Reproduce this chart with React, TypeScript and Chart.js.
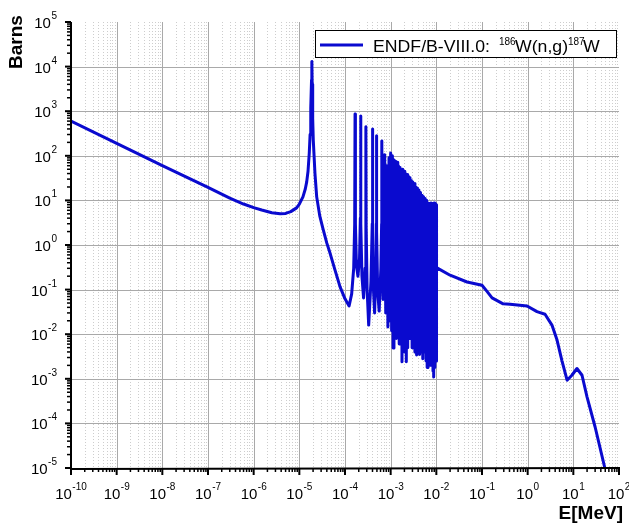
import React, { useEffect, useRef } from 'react';
import { Chart, registerables } from 'chart.js';

Chart.register(...registerables);

// ---------- data ----------
// thermal / 1/v region and the first big resonance
const thermalE = [1e-10, 1e-9, 1e-8, 1e-7, 3e-7, 6e-7, 1e-6, 1.5e-6, 2.5e-6, 3.8e-6, 5e-6, 6.5e-6, 8.7e-6, 1.0e-5, 1.2e-5, 1.35e-5, 1.45e-5, 1.55e-5, 1.65e-5, 1.72e-5, 1.78e-5, 1.85e-5, 1.88e-5, 1.91e-5, 1.96e-5, 2.02e-5, 2.2e-5, 2.4e-5, 2.8e-5, 3.3e-5, 4.0e-5, 4.7e-5, 6.0e-5, 7.8e-5, 1.0e-4, 1.23e-4];
const thermalXS = [600, 190, 60, 19.5, 11.2, 8.3, 6.9, 6.1, 5.3, 5.0, 5.1, 5.6, 6.8, 8.3, 12, 18, 26, 45, 115, 300, 1200, 5000, 13000, 4000, 700, 225, 40, 12, 4.5, 2.3, 1.1, 0.66, 0.28, 0.115, 0.062, 0.043];

// resolved resonance region
const resE = [
  1.4e-4, 1.55e-4, 1.63e-4, 1.66e-4, 1.69e-4, 1.78e-4, 1.92e-4, 2.08e-4, 2.17e-4, 2.2e-4,
  2.23e-4, 2.35e-4, 2.55e-4, 2.75e-4, 2.85e-4, 2.88e-4, 2.91e-4, 3.05e-4, 3.3e-4, 3.7e-4,
  3.95e-4, 4.0e-4, 4.05e-4, 4.2e-4, 4.45e-4, 4.75e-4, 4.86e-4, 4.9e-4, 4.94e-4, 5.2e-4,
  5.6e-4, 6.1e-4, 6.34e-4, 6.4e-4, 6.46e-4, 6.8e-4,
  7.4e-4, 7.8e-4, 8.2e-4, 8.7e-4, 9.2e-4, 9.6e-4, 1.0e-3, 1.05e-3, 1.09e-3, 1.13e-3,
  1.18e-3, 1.23e-3, 1.28e-3, 1.33e-3, 1.38e-3, 1.43e-3, 1.48e-3, 1.54e-3, 1.6e-3, 1.66e-3,
  1.72e-3, 1.77e-3, 1.84e-3, 1.9e-3, 1.97e-3, 2.04e-3, 2.11e-3, 2.2e-3, 2.28e-3, 2.36e-3,
  2.45e-3, 2.55e-3, 2.65e-3, 2.75e-3, 2.85e-3, 2.95e-3, 3.05e-3, 3.15e-3, 3.27e-3, 3.4e-3,
  3.55e-3, 3.7e-3, 3.85e-3, 4.0e-3, 4.15e-3, 4.3e-3, 4.5e-3, 4.65e-3, 4.85e-3, 5.05e-3,
  5.25e-3, 5.45e-3, 5.7e-3, 5.95e-3, 6.15e-3, 6.3e-3, 6.55e-3, 6.8e-3, 7.05e-3, 7.35e-3,
  7.6e-3, 7.9e-3, 8.2e-3, 8.45e-3, 8.6e-3, 8.75e-3, 9.0e-3, 9.3e-3, 9.6e-3, 9.85e-3, 1.0e-2,
];
const resXS = [
  0.08, 0.3, 3, 870, 3, 0.35, 0.2, 0.5, 4, 780,
  3, 0.2, 0.065, 0.3, 4, 450, 2.5, 0.1, 0.016, 0.15,
  3, 400, 2, 0.1, 0.03, 0.3, 3, 280, 2, 0.09,
  0.033, 0.3, 3, 215, 2, 0.06,
  105, 0.03, 60, 0.0145, 90, 0.02, 115, 0.012, 100, 0.0049,
  80, 0.01, 75, 0.008, 72, 0.012, 60, 0.006, 55, 0.008,
  48, 0.0024, 50, 0.006, 45, 0.004, 40, 0.0024, 38, 0.005,
  35, 0.008, 32, 0.013, 28, 0.005, 26, 0.005, 24, 0.004,
  20, 0.0034, 19, 0.005, 17, 0.0035, 15, 0.004, 13, 0.0028,
  12, 0.004, 11, 0.0025, 10, 0.0018, 8.8, 0.003, 8.5, 0.002,
  8.8, 0.0025, 8.2, 0.0015, 8.6, 0.0011, 8.8, 0.0018, 8.5, 0.0025, 8,
];

// unresolved / fast region
const fastE = [1.02e-2, 2e-2, 4.7e-2, 0.1, 0.13, 0.166, 0.29, 0.41, 0.97, 1.6, 2.4, 3.4, 4.4, 5.6, 7.3, 9.3, 12, 15.5, 20, 30, 49, 60];
const fastXS = [0.31, 0.21, 0.148, 0.125, 0.09, 0.065, 0.048, 0.047, 0.043, 0.032, 0.028, 0.016, 0.0074, 0.0026, 9.3e-4, 1.2e-3, 1.7e-3, 1.2e-3, 3.9e-4, 8.3e-5, 1e-5, 4.5e-6];

// axis ticks (powers of ten)
const xTickExps = [-10, -9, -8, -7, -6, -5, -4, -3, -2, -1, 0, 1, 2];
const yTickExps = [-5, -4, -3, -2, -1, 0, 1, 2, 3, 4, 5];

const yTitle = 'Barns';
const xTitle = 'E[MeV]';
const legendParts = ['ENDF/B-VIII.0:', '186', 'W(n,g)', '187', 'W'];

// ---------- styling ----------
const W = 629;
const H = 524;
const FONT = '"Liberation Sans", Arial, Helvetica, sans-serif';
const LINE_COLOR = '#0a0acf';

function drawPow(ctx: CanvasRenderingContext2D, exp: number, x: number, base: number, expBase: number, align: 'center' | 'right') {
  const es = String(exp);
  ctx.font = `15px ${FONT}`;
  const w1 = ctx.measureText('10').width;
  ctx.font = `10px ${FONT}`;
  const w2 = ctx.measureText(es).width;
  const total = w1 + 0.5 + w2;
  const sx = align === 'center' ? x - total / 2 : x - total;
  ctx.textAlign = 'left';
  ctx.textBaseline = 'alphabetic';
  ctx.font = `15px ${FONT}`;
  ctx.fillText('10', sx, base);
  ctx.font = `10px ${FONT}`;
  ctx.fillText(es, sx + w1 + 0.5, expBase);
}

const originPlugin = {
  id: 'originLook',
  beforeDatasetsDraw(chart: any) {
    const { ctx, chartArea: a, scales } = chart;
    const x = scales.x;
    const y = scales.y;
    ctx.save();
    ctx.lineWidth = 1;
    // minor vertical dotted grid
    ctx.strokeStyle = '#cdcdcd';
    ctx.setLineDash([1, 2]);
    for (let i = 0; i < xTickExps.length - 1; i++) {
      for (let k = 2; k <= 9; k++) {
        const px = Math.round(x.getPixelForValue(k * Math.pow(10, xTickExps[i]))) + 0.5;
        ctx.beginPath();
        ctx.moveTo(px, a.top);
        ctx.lineTo(px, a.bottom);
        ctx.stroke();
      }
    }
    // major grid
    ctx.setLineDash([]);
    ctx.strokeStyle = '#a9a9a9';
    for (let i = 1; i < xTickExps.length - 1; i++) {
      const px = Math.round(x.getPixelForValue(Math.pow(10, xTickExps[i]))) + 0.5;
      ctx.beginPath();
      ctx.moveTo(px, a.top);
      ctx.lineTo(px, a.bottom);
      ctx.stroke();
    }
    for (let i = 1; i < yTickExps.length - 1; i++) {
      const py = Math.round(y.getPixelForValue(Math.pow(10, yTickExps[i]))) + 0.5;
      ctx.beginPath();
      ctx.moveTo(a.left, py);
      ctx.lineTo(a.right, py);
      ctx.stroke();
    }
    ctx.restore();
  },
  afterDatasetsDraw(chart: any) {
    const { ctx, chartArea: a, scales } = chart;
    const x = scales.x;
    const y = scales.y;
    ctx.save();
    ctx.strokeStyle = '#000';
    ctx.fillStyle = '#000';
    // axis lines
    ctx.lineWidth = 2;
    ctx.beginPath();
    ctx.moveTo(a.left, a.top);
    ctx.lineTo(a.left, a.bottom + 1);
    ctx.lineTo(a.right + 1, a.bottom);
    ctx.stroke();
    // x ticks
    for (let i = 0; i < xTickExps.length; i++) {
      const e = xTickExps[i];
      const px = x.getPixelForValue(Math.pow(10, e));
      ctx.lineWidth = 2;
      ctx.beginPath();
      ctx.moveTo(px, a.bottom);
      ctx.lineTo(px, a.bottom + 7);
      ctx.stroke();
      if (i < xTickExps.length - 1) {
        ctx.lineWidth = 1.5;
        for (let k = 2; k <= 9; k++) {
          const mx = x.getPixelForValue(k * Math.pow(10, e));
          ctx.beginPath();
          ctx.moveTo(mx, a.bottom);
          ctx.lineTo(mx, a.bottom + 4);
          ctx.stroke();
        }
      }
      drawPow(ctx, e, px, a.bottom + 31, a.bottom + 22, 'center');
    }
    // y ticks
    for (let i = 0; i < yTickExps.length; i++) {
      const e = yTickExps[i];
      const py = y.getPixelForValue(Math.pow(10, e));
      ctx.lineWidth = 2;
      ctx.beginPath();
      ctx.moveTo(a.left, py);
      ctx.lineTo(a.left - 6, py);
      ctx.stroke();
      if (i < yTickExps.length - 1) {
        ctx.lineWidth = 1.5;
        for (let k = 2; k <= 9; k++) {
          const my = y.getPixelForValue(k * Math.pow(10, e));
          ctx.beginPath();
          ctx.moveTo(a.left, my);
          ctx.lineTo(a.left - 4, my);
          ctx.stroke();
        }
      }
      drawPow(ctx, e, a.left - 14, py + 6, py - 3, 'right');
    }
    // axis titles
    ctx.font = `bold 19px ${FONT}`;
    ctx.textBaseline = 'middle';
    ctx.textAlign = 'center';
    ctx.save();
    ctx.translate(17, 42);
    ctx.rotate(-Math.PI / 2);
    ctx.fillText(yTitle, 0, 0);
    ctx.restore();
    ctx.textAlign = 'right';
    ctx.textBaseline = 'alphabetic';
    ctx.fillText(xTitle, 623, 519);

    // legend
    const bx = 315, by = 30, bw = 301, bh = 27;
    ctx.fillStyle = '#fff';
    ctx.fillRect(bx, by, bw, bh);
    ctx.lineWidth = 1;
    ctx.strokeStyle = '#000';
    ctx.strokeRect(bx + 0.5, by + 0.5, bw, bh);
    ctx.strokeStyle = LINE_COLOR;
    ctx.lineWidth = 3;
    ctx.beginPath();
    ctx.moveTo(bx + 5, by + 15);
    ctx.lineTo(bx + 48, by + 15);
    ctx.stroke();
    ctx.fillStyle = '#000';
    ctx.textAlign = 'left';
    const base = by + 22;
    const offs = [58, 184, 200, 253, 268];
    legendParts.forEach((t, i) => {
      const sup = i === 1 || i === 3;
      ctx.save();
      ctx.translate(bx + offs[i], sup ? base - 7 : base);
      if (!sup) ctx.scale(1.04, 1);
      ctx.font = sup ? `10px ${FONT}` : `17px ${FONT}`;
      ctx.fillText(t, 0, 0);
      ctx.restore();
    });
    ctx.restore();
  },
};

export default function App() {
  const ref = useRef<HTMLCanvasElement | null>(null);
  useEffect(() => {
    if (!ref.current) return;
    const energies = [...thermalE, ...resE, ...fastE];
    const xs = [...thermalXS, ...resXS, ...fastXS];
    const points = energies.map((e, i) => ({ x: e, y: xs[i] }));
    const chart = new Chart(ref.current, {
      type: 'line',
      data: {
        datasets: [
          {
            label: 'ENDF/B-VIII.0: 186W(n,g)187W',
            data: points,
            borderColor: LINE_COLOR,
            borderWidth: 3,
            pointRadius: 0,
            fill: false,
            tension: 0,
            borderJoinStyle: 'round',
            borderCapStyle: 'round',
          } as any,
        ],
      },
      options: {
        responsive: false,
        animation: false,
        devicePixelRatio: 1,
        events: [],
        layout: { padding: { left: 0, top: 22, right: 10, bottom: 0 } },
        plugins: { legend: { display: false }, tooltip: { enabled: false } },
        scales: {
          x: {
            type: 'logarithmic',
            min: 1e-10,
            max: 100,
            grid: { display: false },
            border: { display: false },
            ticks: { display: false },
            afterFit: (s: any) => { s.height = 56; },
          },
          y: {
            type: 'logarithmic',
            min: 1e-5,
            max: 1e5,
            grid: { display: false },
            border: { display: false },
            ticks: { display: false },
            afterFit: (s: any) => { s.width = 71; },
          },
        },
      } as any,
      plugins: [originPlugin],
    });
    return () => chart.destroy();
  }, []);
  return (
    <div style={{ position: 'absolute', left: 0, top: 0, width: W, height: H, background: '#fff' }}>
      <canvas ref={ref} width={W} height={H} style={{ display: 'block' }} />
    </div>
  );
}
